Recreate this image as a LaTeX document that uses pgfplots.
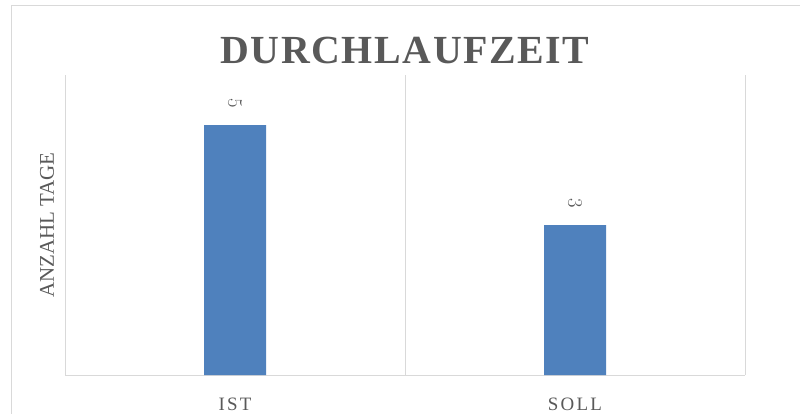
\documentclass[border=0pt]{standalone}
\usepackage{fontspec}
\setmainfont{Liberation Serif}
\newfontfamily\titlefont[LetterSpace=4]{Liberation Serif}
\newfontfamily\tickfont[LetterSpace=12]{Liberation Serif}
\usepackage{pgfplots}
\pgfplotsset{compat=1.18}
\definecolor{barblue}{HTML}{4F81BD}
\definecolor{txtgray}{HTML}{595959}
\definecolor{gridgray}{HTML}{D9D9D9}
\begin{document}
\begin{tikzpicture}
\useasboundingbox (-65bp,-39bp) rectangle (735bp,375bp);
\draw[gridgray, line width=1bp] (-53bp,-60bp) -- (-53bp,369bp) -- (800bp,369bp);
\begin{axis}[
  at={(0,0)}, anchor=south west,
  scale only axis, width=680bp, height=300bp,
  xmin=-0.5, xmax=1.5, ymin=0, ymax=6,
  axis x line*=bottom, axis y line*=left,
  x axis line style={draw=gridgray, line width=1bp},
  y axis line style={draw=none},
  ytick=\empty,
  xtick=data, xticklabels={IST,SOLL},
  major tick length=0pt,
  xticklabel style={anchor=base, yshift=-35bp, font=\fontsize{19}{22}\selectfont\tickfont, text=txtgray},
  extra x ticks={-0.5,0.5,1.5},
  extra x tick labels={},
  extra x tick style={grid=major, major grid style={draw=gridgray, line width=1bp}},
  title={DURCHLAUFZEIT},
  title style={at={(axis description cs:0.5,1)}, anchor=base, yshift=6bp, font=\fontsize{40}{44}\selectfont\titlefont\bfseries, text=txtgray},
  ylabel={ANZAHL TAGE},
  every axis y label/.style={at={(axis description cs:0,0.5)}, xshift=-18bp, rotate=90, anchor=center, font=\fontsize{21}{24}\selectfont, text=txtgray},
  bar width=62bp,
  nodes near coords,
  every node near coord/.append style={font=\fontsize{20}{22}\selectfont, text=txtgray, rotate=-90, anchor=east, inner xsep=17bp, inner ysep=0pt},
]
\addplot[ybar, fill=barblue, draw=none] coordinates {(0,5) (1,3)};
\end{axis}
\end{tikzpicture}
\end{document}
